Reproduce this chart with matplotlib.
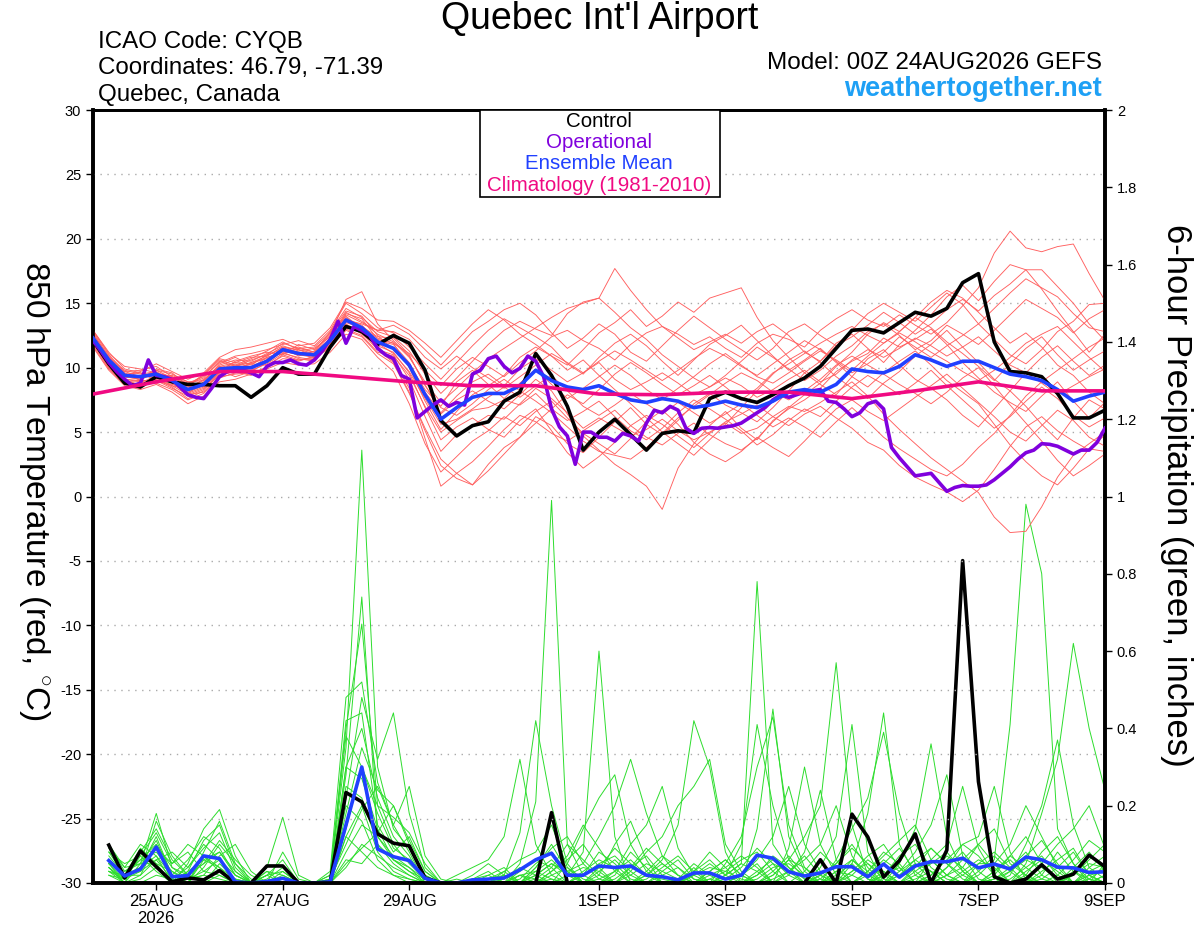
import matplotlib
matplotlib.use("Agg")
import matplotlib.pyplot as plt
from matplotlib.patches import Rectangle
import pandas as pd

plt.rcParams['font.family'] = ['Liberation Sans', 'DejaVu Sans']
plt.rcParams['axes.unicode_minus'] = False
plt.rcParams['mathtext.fontset'] = 'custom'
plt.rcParams['mathtext.rm'] = 'Liberation Sans'

# ---- data (6-hourly unless noted) ----
run_start = "2026-08-24 00:00"

control_temp = [12.1, 10.3, 8.8, 8.5, 9.3, 8.9, 8.7, 8.7, 8.6, 8.6, 7.7, 8.6,
                10.0, 9.5, 9.5, 11.6, 13.2, 12.8, 11.8, 12.5, 11.9, 9.8, 5.9, 4.7,
                5.5, 5.8, 7.4, 8.1, 11.1, 9.4, 7.0, 3.6, 5.0, 6.0, 4.8, 3.6,
                4.9, 5.1, 4.95, 7.6, 8.1, 7.6, 7.3, 7.9, 8.6, 9.2, 10.1, 11.5,
                12.9, 13.0, 12.7, 13.5, 14.3, 14.0, 14.6, 16.6, 17.3, 12.0, 9.7, 9.6,
                9.3, 8.0, 6.1, 6.1, 6.7]

mean_temp = [12.3, 10.6, 9.4, 9.3, 9.5, 9.0, 8.3, 8.7, 9.9, 10.0, 10.0, 10.5,
             11.4, 11.1, 11.0, 12.1, 13.7, 13.1, 12.0, 11.5, 10.2, 7.9, 6.0, 6.9,
             7.7, 8.0, 8.0, 8.6, 9.8, 9.0, 8.5, 8.3, 8.6, 8.0, 7.5, 7.3,
             7.6, 7.4, 6.9, 7.1, 7.4, 7.1, 6.9, 7.4, 8.1, 8.3, 8.1, 8.7,
             9.9, 9.7, 9.6, 10.1, 11.0, 10.6, 10.1, 10.5, 10.5, 10.0, 9.5, 9.3,
             9.0, 8.3, 7.4, 7.8, 8.1]

# operational run is 3-hourly
oper_temp = [12.1, 11.3, 10.4, 9.7, 9.1, 8.6, 8.8, 10.6, 9.4, 9.3,
             9.1, 8.5, 7.9, 7.7, 7.6, 8.4, 9.3, 9.7, 9.8, 9.8,
             9.6, 9.3, 10.1, 10.4, 10.4, 10.6, 10.3, 10.2, 10.6, 11.3,
             12.2, 13.6, 11.9, 13.2, 12.9, 12.5, 11.5, 11.0, 10.7, 9.4,
             9.1, 6.1, 6.6, 7.1, 7.5, 7.0, 7.3, 7.1, 9.5, 9.8,
             10.7, 10.9, 10.1, 9.6, 9.95, 10.9, 10.5, 9.3, 6.8, 5.4,
             4.7, 2.5, 5.0, 5.0, 4.6, 4.6, 4.3, 4.9, 4.7, 4.3,
             5.7, 6.7, 6.5, 7.0, 6.7, 5.3, 4.9, 5.3, 5.35, 5.3,
             5.4, 5.5, 5.7, 6.1, 6.5, 6.9, 7.5, 7.9, 7.7, 7.9,
             8.1, 8.2, 8.3, 7.4, 7.3, 6.8, 6.2, 6.5, 7.2, 7.4,
             6.8, 3.8, 3.0, 2.3, 1.6, 1.7, 1.8, 1.1, 0.4, 0.7,
             0.85, 0.8, 0.8, 0.9, 1.3, 1.8, 2.3, 2.9, 3.4, 3.6,
             4.1, 4.05, 3.9, 3.6, 3.3, 3.6, 3.6, 4.2, 5.3]

# climatology, daily at 00Z
clim_temp = [7.95, 8.9, 9.7, 9.7, 9.3, 8.9, 8.6, 8.6, 7.95, 7.9, 8.1, 8.1,
             7.6, 8.2, 8.9, 8.2, 8.2]

member_temp = [
    [12.6, 10.9, 9.6, 9.0, 9.8, 9.2, 8.0, 8.9, 10.3, 10.8, 10.2, 11.0, 11.9, 11.5, 11.2, 12.8,
     14.6, 13.9, 12.8, 12.4, 11.3, 9.5, 8.0, 9.2, 10.5, 11.8, 12.9, 13.6, 13.0, 12.5, 14.2, 15.1,
     15.4, 17.7, 16.0, 14.5, 13.2, 12.6, 11.8, 12.4, 11.5, 10.8, 11.9, 12.6, 12.2, 11.6, 12.9, 13.8,
     14.5, 13.7, 13.2, 14.1, 13.3, 12.6, 13.5, 14.8, 16.2, 18.9, 20.6, 19.3, 19.0, 19.4, 19.6, 17.3, 15.2],
    [12.0, 10.2, 9.0, 8.7, 9.1, 8.5, 7.6, 8.2, 9.5, 9.7, 9.4, 10.1, 11.0, 10.6, 10.7, 11.9,
     13.2, 12.7, 11.4, 11.0, 9.1, 6.2, 3.5, 4.8, 5.5, 6.3, 6.0, 7.2, 8.4, 7.6, 6.5, 5.3,
     6.1, 5.4, 4.7, 5.2, 6.0, 5.1, 4.4, 5.0, 5.7, 4.9, 5.3, 6.2, 7.0, 6.6, 7.3, 8.1,
     8.9, 7.8, 6.4, 5.2, 4.1, 3.0, 2.1, 1.2, 0.3, -1.6, -2.8, -2.7, -0.8, 1.5, 3.2, 4.1, 5.0],
    [12.9, 11.2, 9.9, 9.6, 9.0, 8.7, 8.4, 9.1, 10.1, 9.8, 10.4, 10.9, 11.6, 10.9, 11.3, 12.5,
     14.0, 13.0, 11.6, 10.5, 8.4, 4.5, 0.8, 1.8, 0.9, 2.5, 3.8, 4.6, 6.2, 5.5, 4.1, 3.4,
     4.6, 5.8, 6.9, 5.6, 4.8, 5.9, 7.2, 8.0, 7.1, 6.5, 5.8, 6.9, 8.2, 9.6, 8.7, 7.9,
     9.3, 10.7, 11.4, 10.2, 9.1, 8.4, 7.5, 6.3, 5.4, 6.8, 8.2, 7.0, 5.6, 4.4, 6.1, 7.5, 6.8],
    [11.8, 10.0, 8.8, 8.4, 9.3, 9.4, 8.9, 8.5, 9.7, 10.5, 10.9, 11.2, 11.0, 11.8, 11.4, 12.6,
     15.3, 15.9, 13.4, 12.1, 10.9, 8.7, 6.4, 7.5, 8.2, 7.4, 6.8, 7.9, 9.1, 8.2, 6.4, 4.7,
     3.6, 2.5, 1.7, 0.8, -1.0, 2.2, 4.1, 5.5, 6.6, 5.3, 4.4, 5.9, 6.8, 7.5, 8.4, 9.7,
     10.5, 11.1, 12.3, 11.6, 12.2, 13.0, 11.8, 10.4, 9.2, 8.1, 7.3, 6.6, 7.8, 8.9, 7.4, 6.1, 7.3],
    [12.4, 10.7, 9.3, 9.1, 9.9, 9.6, 8.6, 9.4, 10.6, 10.2, 10.7, 11.3, 12.0, 11.4, 10.9, 12.2,
     14.1, 13.5, 12.9, 13.3, 12.6, 11.4, 10.2, 11.5, 12.8, 13.6, 14.5, 15.0, 14.1, 12.7, 11.5, 12.3,
     13.4, 12.6, 11.2, 10.5, 11.7, 12.9, 14.0, 13.1, 12.2, 11.4, 10.6, 11.5, 12.8, 13.4, 12.5, 11.7,
     12.9, 14.2, 15.0, 14.3, 13.6, 14.7, 15.8, 14.9, 13.4, 12.2, 11.0, 10.3, 11.4, 12.8, 13.6, 14.9, 15.0],
    [12.2, 10.4, 9.1, 8.9, 8.8, 8.3, 7.5, 8.0, 9.2, 9.6, 10.0, 10.8, 11.2, 10.7, 10.5, 11.8,
     13.5, 13.1, 12.3, 11.9, 10.0, 7.4, 5.2, 6.6, 7.9, 8.6, 9.4, 10.8, 11.6, 10.9, 10.2, 11.4,
     12.7, 13.5, 14.5, 13.2, 14.0, 15.1, 14.3, 15.4, 15.8, 16.2, 13.9, 12.1, 10.8, 9.6, 10.5, 11.9,
     12.6, 11.5, 10.4, 11.8, 12.9, 14.1, 15.5, 16.4, 15.2, 16.7, 18.0, 17.6, 16.1, 14.4, 12.8, 11.2, 12.6],
    [12.7, 10.8, 9.5, 9.2, 9.4, 8.9, 8.1, 8.6, 9.8, 9.3, 9.7, 10.4, 11.3, 11.0, 10.8, 11.9,
     13.4, 12.6, 11.7, 11.2, 9.6, 6.9, 4.4, 5.4, 6.1, 5.2, 4.6, 5.9, 6.8, 5.1, 3.4, 2.2,
     3.1, 4.2, 5.5, 6.3, 5.6, 4.7, 3.8, 4.9, 5.8, 6.4, 7.1, 6.2, 5.5, 6.4, 7.0, 6.1,
     5.3, 4.2, 3.6, 2.4, 1.5, 0.9, 0.35, -0.4, 0.5, 2.1, 3.9, 5.4, 6.2, 5.1, 4.3, 3.6, 4.8],
    [12.1, 10.5, 9.2, 9.4, 9.6, 9.1, 8.2, 8.8, 10.0, 10.3, 10.1, 10.6, 11.5, 11.2, 11.1, 12.0,
     13.8, 13.3, 12.1, 11.8, 10.4, 8.1, 6.5, 7.8, 8.9, 9.5, 8.6, 9.9, 10.7, 9.8, 8.9, 9.6,
     10.4, 9.1, 8.3, 8.9, 9.6, 8.8, 7.9, 8.5, 9.2, 8.6, 7.7, 8.3, 9.1, 9.8, 8.9, 9.5,
     10.6, 11.4, 10.8, 11.5, 12.3, 11.7, 10.9, 11.6, 12.4, 11.3, 10.2, 9.6, 8.8, 7.9, 8.6, 9.3, 9.9],
    [11.9, 10.3, 9.7, 9.8, 10.1, 9.3, 8.8, 9.3, 10.4, 10.9, 11.1, 11.4, 11.8, 12.1, 11.7, 12.9,
     15.0, 14.2, 13.1, 12.7, 11.6, 10.3, 9.1, 10.4, 11.7, 12.9, 13.8, 13.1, 12.4, 11.6, 10.3, 9.5,
     10.8, 11.9, 12.6, 11.7, 10.5, 9.4, 10.6, 11.8, 12.5, 13.3, 12.1, 10.9, 9.8, 10.6, 11.5, 10.4,
     9.3, 8.5, 9.6, 10.5, 11.3, 10.2, 9.0, 8.1, 7.2, 5.6, 4.0, 2.7, 1.6, 0.9, 2.2, 3.7, 3.5],
    [12.5, 10.6, 9.0, 8.6, 9.2, 8.8, 7.9, 8.4, 9.4, 9.9, 10.3, 10.2, 10.9, 10.5, 10.9, 11.6,
     12.9, 12.4, 11.1, 10.3, 8.0, 5.3, 2.9, 1.8, 2.7, 3.9, 5.2, 6.3, 5.8, 4.9, 4.3, 5.1,
     5.9, 6.7, 5.5, 4.6, 4.0, 4.9, 5.7, 4.8, 4.1, 3.6, 4.5, 5.8, 6.9, 7.9, 8.8, 10.1,
     11.2, 12.6, 13.5, 12.8, 13.9, 15.1, 16.0, 15.4, 14.3, 13.1, 11.9, 12.7, 11.6, 10.2, 9.4, 8.1, 7.2],
    [12.3, 10.8, 9.8, 9.5, 9.7, 9.0, 8.5, 9.0, 10.2, 10.6, 10.5, 11.1, 11.7, 11.3, 11.5, 12.4,
     14.3, 13.6, 12.6, 12.0, 10.8, 8.9, 7.3, 8.4, 9.6, 10.7, 11.5, 12.3, 13.1, 13.9, 14.6, 15.0,
     15.4, 14.3, 13.1, 12.2, 11.0, 10.1, 9.2, 8.5, 9.4, 10.5, 11.6, 10.8, 9.9, 9.0, 9.8, 10.9,
     11.7, 12.8, 13.4, 12.5, 11.4, 12.1, 13.3, 12.6, 11.8, 12.9, 14.1, 15.3, 14.6, 13.9, 12.7, 13.8, 14.5],
    [11.6, 9.8, 8.6, 8.3, 8.7, 8.1, 7.2, 7.8, 8.9, 9.1, 9.5, 9.9, 10.4, 10.2, 10.3, 11.2,
     12.6, 12.2, 10.8, 9.7, 7.2, 4.1, 1.9, 3.1, 4.3, 5.1, 6.2, 5.5, 6.6, 7.4, 6.1, 4.9,
     4.1, 3.3, 4.5, 5.8, 6.7, 5.6, 4.2, 3.3, 2.7, 3.5, 4.6, 3.8, 3.1, 4.3, 5.6, 6.8,
     7.5, 6.6, 5.9, 6.8, 7.7, 8.6, 9.5, 8.4, 7.3, 6.2, 5.0, 4.3, 5.5, 6.7, 5.9, 4.6, 3.9],
    [12.8, 11.0, 9.7, 9.3, 9.5, 9.2, 8.7, 9.2, 10.5, 10.1, 10.6, 11.0, 11.4, 11.6, 11.2, 12.3,
     14.2, 13.8, 12.2, 11.9, 11.1, 9.8, 8.6, 9.9, 10.8, 10.1, 9.3, 10.4, 11.3, 12.4, 12.9, 12.1,
     11.5, 10.6, 11.8, 12.7, 13.2, 12.3, 11.4, 12.0, 12.6, 11.9, 12.8, 13.4, 12.5, 11.2, 10.5, 11.7,
     12.4, 13.3, 14.3, 13.5, 12.6, 13.4, 14.5, 15.3, 14.4, 15.6, 16.5, 17.6, 17.6, 16.3, 15.0, 13.4, 12.1],
    [12.0, 10.1, 9.1, 9.0, 9.0, 8.4, 7.8, 8.3, 9.6, 10.0, 9.8, 10.3, 11.1, 10.8, 10.6, 11.7,
     13.0, 12.5, 11.2, 10.9, 9.4, 7.0, 5.0, 5.9, 6.7, 6.9, 7.5, 7.1, 8.0, 6.8, 5.9, 6.6,
     7.4, 6.2, 5.1, 4.4, 5.3, 6.5, 7.5, 6.8, 6.0, 5.1, 4.0, 4.8, 5.9, 6.8, 6.2, 7.4,
     8.5, 9.4, 8.7, 7.9, 8.8, 9.8, 8.6, 7.5, 6.4, 5.3, 6.2, 7.4, 8.5, 7.6, 6.3, 5.4, 6.1],
    [12.4, 10.4, 9.4, 9.7, 10.3, 9.7, 9.1, 9.6, 10.8, 11.4, 11.6, 11.9, 12.2, 11.7, 11.9, 13.1,
     15.1, 14.6, 13.7, 13.6, 12.9, 11.9, 10.8, 12.1, 13.4, 14.5, 13.7, 12.6, 11.8, 10.9, 9.8, 10.6,
     9.4, 8.3, 7.2, 6.1, 5.0, 4.1, 3.2, 4.4, 5.6, 6.9, 8.2, 9.5, 10.6, 11.3, 10.4, 9.3,
     8.4, 7.6, 8.8, 9.7, 10.9, 11.8, 12.9, 11.6, 10.4, 9.1, 8.2, 9.6, 10.8, 11.7, 10.5, 9.4, 10.2],
    [11.7, 9.9, 8.7, 8.8, 9.4, 8.9, 8.0, 8.5, 9.6, 10.1, 10.4, 10.7, 11.3, 11.0, 11.0, 12.2,
     13.9, 13.0, 11.4, 10.4, 8.1, 5.1, 2.4, 1.4, 0.9, 2.0, 3.3, 4.6, 5.7, 6.8, 7.9, 7.2,
     8.3, 9.5, 10.4, 9.6, 8.7, 7.9, 8.6, 9.4, 8.5, 7.5, 8.4, 9.6, 10.3, 11.1, 11.9, 12.6,
     13.2, 12.5, 11.9, 12.8, 13.9, 13.1, 12.0, 11.1, 10.1, 9.0, 10.3, 11.5, 12.4, 11.0, 9.8, 10.6, 11.3],
    [12.6, 10.6, 9.3, 9.1, 9.8, 9.5, 8.9, 9.0, 10.1, 10.4, 10.8, 10.9, 11.6, 11.4, 11.1, 12.2,
     13.6, 13.2, 12.4, 12.3, 11.0, 8.6, 6.9, 6.3, 7.2, 8.3, 9.1, 8.2, 7.4, 6.5, 5.4, 4.3,
     3.5, 3.2, 2.9, 3.8, 4.9, 6.1, 7.0, 7.9, 8.8, 9.6, 9.0, 8.1, 7.5, 8.2, 9.1, 10.2,
     10.9, 10.2, 9.5, 8.7, 8.0, 7.2, 8.1, 9.2, 10.0, 8.6, 7.1, 5.7, 4.3, 2.8, 1.6, 2.4, 3.3],
    [12.2, 10.5, 9.5, 9.6, 9.3, 8.6, 8.3, 8.7, 9.9, 10.2, 9.9, 10.6, 11.5, 11.2, 11.0, 12.1,
     13.7, 13.4, 12.9, 12.8, 12.2, 10.8, 9.9, 10.9, 10.0, 9.2, 8.4, 9.3, 10.2, 11.1, 10.4, 9.6,
     10.5, 11.3, 10.6, 9.8, 9.0, 9.8, 10.7, 11.5, 10.9, 10.1, 9.4, 10.3, 11.2, 12.1, 11.4, 10.5,
     9.6, 10.3, 11.2, 12.4, 11.6, 10.8, 11.7, 12.5, 13.4, 14.6, 15.8, 16.9, 16.2, 15.5, 14.2, 13.1, 12.8],
    [12.1, 10.0, 8.9, 9.0, 9.0, 8.6, 7.9, 8.1, 9.3, 9.5, 9.6, 10.0, 10.7, 10.6, 10.8, 11.5,
     13.1, 12.9, 11.9, 11.1, 9.7, 7.6, 5.6, 6.0, 6.8, 7.7, 8.5, 7.7, 8.6, 9.4, 8.2, 7.0,
     6.3, 7.1, 8.0, 7.2, 6.4, 7.3, 6.5, 5.7, 6.4, 7.2, 6.3, 5.4, 6.1, 5.4, 4.6, 5.8,
     6.9, 5.8, 4.6, 3.7, 2.9, 2.1, 1.6, 2.5, 3.8, 4.9, 6.3, 7.8, 8.9, 9.8, 10.7, 11.6, 12.3],
    [12.9, 11.1, 10.1, 9.9, 9.6, 9.3, 8.6, 9.5, 10.7, 10.4, 10.3, 10.8, 11.1, 11.5, 11.6, 12.7,
     14.4, 14.0, 12.5, 11.4, 10.3, 8.3, 7.0, 8.9, 9.8, 8.7, 7.6, 8.8, 9.9, 8.7, 7.6, 8.4,
     9.3, 10.2, 9.4, 8.3, 7.5, 8.4, 9.3, 10.3, 11.1, 10.2, 9.3, 8.8, 9.6, 10.5, 11.3, 10.6,
     9.8, 10.9, 11.9, 12.7, 12.0, 11.2, 10.5, 9.7, 9.0, 9.8, 10.8, 11.9, 12.6, 13.2, 12.0, 10.8, 9.7],
]

# precipitation totals for the 6 h ending 06Z 24 Aug ... 00Z 9 Sep
control_precip = [0.098, 0.013, 0.083, 0.042, 0.003, 0.013, 0.008, 0.032, 0.0, 0.0, 0.044, 0.044,
                  0.0, 0.0, 0.002, 0.234, 0.21, 0.127, 0.103, 0.096, 0.013, 0.0, 0.0, 0.0,
                  0.0, 0.0, 0.0, 0.0, 0.182, 0.0, 0.0, 0.0, 0.0, 0.0, 0.0, 0.0,
                  0.0, 0.0, 0.0, 0.0, 0.0, 0.0, 0.0, 0.0, 0.0, 0.06, 0.0, 0.178,
                  0.119, 0.015, 0.058, 0.127, 0.0, 0.085, 0.834, 0.262, 0.016, 0.0, 0.01, 0.047,
                  0.01, 0.023, 0.072, 0.042]

mean_precip = [0.058, 0.018, 0.036, 0.093, 0.016, 0.019, 0.07, 0.063, 0.003, 0.0, 0.004, 0.012,
               0.0, 0.0, 0.003, 0.15, 0.30, 0.088, 0.068, 0.058, 0.012, 0.0, 0.0, 0.008,
               0.01, 0.013, 0.034, 0.06, 0.077, 0.02, 0.02, 0.044, 0.04, 0.044, 0.02, 0.016,
               0.008, 0.026, 0.026, 0.01, 0.02, 0.072, 0.064, 0.029, 0.018, 0.026, 0.042, 0.042,
               0.016, 0.049, 0.015, 0.044, 0.055, 0.055, 0.064, 0.039, 0.049, 0.036, 0.067, 0.06,
               0.041, 0.039, 0.027, 0.029]

member_precip = [
    [0.05, 0.01, 0.04, 0.12, 0.02, 0.0, 0.06, 0.08, 0.02, 0.0, 0.0, 0.03, 0.0, 0.0, 0.01, 0.35,
     1.12, 0.30, 0.14, 0.09, 0.02, 0.0, 0.0, 0.0, 0.0, 0.0, 0.03, 0.06, 0.04, 0.0, 0.02, 0.08,
     0.05, 0.01, 0.0, 0.0, 0.0, 0.02, 0.05, 0.02, 0.05, 0.78, 0.1, 0.04, 0.0, 0.0, 0.02, 0.05,
     0.01, 0.0, 0.0, 0.03, 0.06, 0.02, 0.0, 0.0, 0.01, 0.04, 0.08, 0.02, 0.0, 0.0, 0.03, 0.05],
    [0.08, 0.02, 0.09, 0.05, 0.0, 0.03, 0.11, 0.15, 0.04, 0.0, 0.02, 0.0, 0.0, 0.0, 0.0, 0.28,
     0.74, 0.12, 0.06, 0.03, 0.0, 0.0, 0.0, 0.01, 0.02, 0.0, 0.05, 0.21, 0.99, 0.1, 0.02, 0.0,
     0.0, 0.04, 0.07, 0.02, 0.0, 0.0, 0.01, 0.0, 0.0, 0.03, 0.06, 0.02, 0.0, 0.01, 0.05, 0.1,
     0.04, 0.0, 0.02, 0.06, 0.03, 0.0, 0.0, 0.05, 0.05, 0.1, 0.2, 0.12, 0.04, 0.0, 0.02, 0.0],
    [0.03, 0.0, 0.05, 0.18, 0.04, 0.01, 0.03, 0.06, 0.0, 0.0, 0.03, 0.0, 0.0, 0.0, 0.02, 0.4,
     0.67, 0.2, 0.1, 0.05, 0.01, 0.0, 0.0, 0.0, 0.0, 0.03, 0.0, 0.02, 0.05, 0.02, 0.08, 0.6,
     0.12, 0.0, 0.0, 0.03, 0.06, 0.01, 0.0, 0.0, 0.02, 0.05, 0.0, 0.0, 0.03, 0.08, 0.04, 0.0,
     0.0, 0.02, 0.07, 0.1, 0.04, 0.01, 0.0, 0.02, 0.06, 0.41, 0.98, 0.8, 0.14, 0.05, 0.0, 0.02],
    [0.06, 0.02, 0.02, 0.1, 0.0, 0.05, 0.14, 0.19, 0.07, 0.0, 0.0, 0.02, 0.0, 0.0, 0.03, 0.48,
     0.52, 0.26, 0.15, 0.08, 0.0, 0.0, 0.01, 0.0, 0.0, 0.0, 0.0, 0.04, 0.1, 0.03, 0.0, 0.02,
     0.1, 0.16, 0.06, 0.0, 0.0, 0.03, 0.08, 0.04, 0.0, 0.0, 0.02, 0.06, 0.12, 0.2, 0.57, 0.15,
     0.02, 0.0, 0.0, 0.04, 0.09, 0.05, 0.01, 0.0, 0.0, 0.03, 0.07, 0.11, 0.05, 0.0, 0.01, 0.04],
    [0.1, 0.03, 0.06, 0.08, 0.03, 0.0, 0.04, 0.1, 0.05, 0.01, 0.0, 0.0, 0.0, 0.0, 0.0, 0.22,
     0.48, 0.32, 0.44, 0.18, 0.04, 0.0, 0.0, 0.0, 0.01, 0.0, 0.02, 0.0, 0.03, 0.07, 0.15, 0.09,
     0.03, 0.0, 0.02, 0.05, 0.02, 0.0, 0.0, 0.01, 0.04, 0.09, 0.05, 0.0, 0.0, 0.02, 0.0, 0.0,
     0.03, 0.08, 0.05, 0.0, 0.0, 0.04, 0.1, 0.07, 0.02, 0.0, 0.05, 0.18, 0.32, 0.62, 0.4, 0.24],
    [0.04, 0.0, 0.08, 0.14, 0.06, 0.02, 0.0, 0.05, 0.01, 0.0, 0.04, 0.17, 0.02, 0.0, 0.01, 0.42,
     0.44, 0.15, 0.08, 0.12, 0.03, 0.0, 0.0, 0.0, 0.0, 0.02, 0.13, 0.42, 0.2, 0.05, 0.0, 0.0,
     0.02, 0.08, 0.04, 0.0, 0.0, 0.0, 0.03, 0.06, 0.02, 0.0, 0.0, 0.03, 0.07, 0.02, 0.0, 0.05,
     0.18, 0.44, 0.1, 0.02, 0.0, 0.0, 0.03, 0.06, 0.04, 0.0, 0.0, 0.02, 0.08, 0.03, 0.0, 0.0],
    [0.02, 0.01, 0.03, 0.06, 0.08, 0.04, 0.09, 0.13, 0.03, 0.0, 0.0, 0.01, 0.0, 0.0, 0.0, 0.3,
     0.4, 0.22, 0.12, 0.07, 0.0, 0.0, 0.02, 0.04, 0.06, 0.12, 0.32, 0.1, 0.02, 0.0, 0.0, 0.03,
     0.06, 0.02, 0.0, 0.0, 0.01, 0.05, 0.02, 0.0, 0.0, 0.14, 0.45, 0.12, 0.03, 0.0, 0.0, 0.02,
     0.06, 0.03, 0.0, 0.0, 0.02, 0.07, 0.04, 0.0, 0.0, 0.02, 0.1, 0.2, 0.37, 0.15, 0.04, 0.01],
    [0.07, 0.02, 0.04, 0.09, 0.01, 0.0, 0.07, 0.04, 0.0, 0.0, 0.02, 0.06, 0.0, 0.0, 0.02, 0.38,
     0.3, 0.18, 0.09, 0.06, 0.01, 0.0, 0.0, 0.0, 0.0, 0.0, 0.01, 0.05, 0.08, 0.03, 0.05, 0.12,
     0.2, 0.32, 0.18, 0.07, 0.02, 0.0, 0.0, 0.02, 0.05, 0.03, 0.0, 0.0, 0.0, 0.04, 0.12, 0.41,
     0.08, 0.0, 0.02, 0.05, 0.03, 0.0, 0.0, 0.0, 0.03, 0.06, 0.02, 0.0, 0.0, 0.04, 0.08, 0.03],
    [0.05, 0.03, 0.05, 0.11, 0.02, 0.06, 0.12, 0.09, 0.02, 0.0, 0.0, 0.0, 0.0, 0.0, 0.0, 0.18,
     0.35, 0.24, 0.2, 0.1, 0.02, 0.0, 0.0, 0.01, 0.03, 0.0, 0.0, 0.03, 0.06, 0.02, 0.0, 0.04,
     0.09, 0.05, 0.02, 0.06, 0.15, 0.42, 0.3, 0.08, 0.0, 0.0, 0.03, 0.07, 0.02, 0.0, 0.01, 0.06,
     0.03, 0.0, 0.05, 0.14, 0.36, 0.12, 0.03, 0.0, 0.0, 0.01, 0.04, 0.07, 0.02, 0.0, 0.0, 0.05],
    [0.09, 0.04, 0.1, 0.07, 0.0, 0.02, 0.05, 0.11, 0.06, 0.02, 0.0, 0.0, 0.0, 0.0, 0.0, 0.3,
     0.27, 0.14, 0.06, 0.04, 0.0, 0.0, 0.0, 0.0, 0.0, 0.01, 0.04, 0.02, 0.0, 0.05, 0.14, 0.22,
     0.28, 0.1, 0.03, 0.0, 0.0, 0.04, 0.0, 0.02, 0.1, 0.41, 0.2, 0.06, 0.01, 0.0, 0.03, 0.02,
     0.0, 0.05, 0.09, 0.03, 0.0, 0.02, 0.06, 0.1, 0.05, 0.0, 0.0, 0.03, 0.06, 0.09, 0.02, 0.0],
    [0.03, 0.01, 0.07, 0.13, 0.05, 0.08, 0.03, 0.02, 0.0, 0.0, 0.01, 0.04, 0.0, 0.0, 0.0, 0.14,
     0.3, 0.2, 0.17, 0.13, 0.05, 0.0, 0.0, 0.0, 0.0, 0.0, 0.0, 0.01, 0.04, 0.1, 0.06, 0.02,
     0.0, 0.03, 0.08, 0.12, 0.2, 0.25, 0.32, 0.1, 0.03, 0.0, 0.0, 0.09, 0.3, 0.1, 0.02, 0.0,
     0.0, 0.03, 0.0, 0.02, 0.05, 0.08, 0.03, 0.0, 0.02, 0.07, 0.12, 0.05, 0.0, 0.02, 0.06, 0.1],
    [0.04, 0.0, 0.02, 0.06, 0.01, 0.0, 0.08, 0.16, 0.05, 0.0, 0.03, 0.02, 0.0, 0.0, 0.01, 0.1,
     0.19, 0.25, 0.15, 0.25, 0.07, 0.01, 0.0, 0.0, 0.02, 0.04, 0.0, 0.0, 0.01, 0.0, 0.03, 0.06,
     0.04, 0.0, 0.0, 0.02, 0.04, 0.01, 0.0, 0.05, 0.12, 0.3, 0.43, 0.15, 0.04, 0.0, 0.0, 0.03,
     0.05, 0.01, 0.0, 0.0, 0.02, 0.06, 0.1, 0.12, 0.25, 0.08, 0.01, 0.0, 0.0, 0.03, 0.01, 0.0],
    [0.06, 0.02, 0.03, 0.16, 0.07, 0.02, 0.01, 0.03, 0.0, 0.0, 0.0, 0.0, 0.0, 0.0, 0.0, 0.25,
     0.22, 0.1, 0.05, 0.02, 0.0, 0.0, 0.0, 0.0, 0.01, 0.03, 0.06, 0.08, 0.15, 0.04, 0.0, 0.0,
     0.03, 0.1, 0.15, 0.25, 0.09, 0.02, 0.0, 0.0, 0.0, 0.02, 0.05, 0.03, 0.0, 0.0, 0.06, 0.14,
     0.22, 0.39, 0.18, 0.05, 0.01, 0.0, 0.0, 0.03, 0.07, 0.03, 0.0, 0.0, 0.02, 0.06, 0.11, 0.08],
    [0.02, 0.0, 0.01, 0.04, 0.0, 0.03, 0.06, 0.04, 0.01, 0.0, 0.0, 0.08, 0.01, 0.0, 0.0, 0.12,
     0.2, 0.08, 0.03, 0.01, 0.0, 0.0, 0.0, 0.02, 0.05, 0.02, 0.0, 0.0, 0.0, 0.02, 0.04, 0.03,
     0.0, 0.0, 0.03, 0.07, 0.04, 0.0, 0.0, 0.0, 0.02, 0.06, 0.12, 0.25, 0.1, 0.03, 0.0, 0.0,
     0.02, 0.06, 0.03, 0.08, 0.15, 0.28, 0.07, 0.01, 0.0, 0.0, 0.03, 0.06, 0.03, 0.0, 0.0, 0.02],
    [0.08, 0.05, 0.07, 0.03, 0.0, 0.01, 0.02, 0.07, 0.1, 0.03, 0.0, 0.0, 0.0, 0.0, 0.0, 0.2,
     0.16, 0.06, 0.02, 0.0, 0.0, 0.0, 0.0, 0.0, 0.0, 0.0, 0.02, 0.03, 0.01, 0.0, 0.0, 0.01,
     0.03, 0.06, 0.02, 0.0, 0.0, 0.0, 0.02, 0.04, 0.07, 0.04, 0.0, 0.02, 0.08, 0.24, 0.06, 0.0,
     0.0, 0.02, 0.04, 0.0, 0.06, 0.1, 0.25, 0.09, 0.02, 0.0, 0.0, 0.01, 0.04, 0.08, 0.02, 0.0],
    [0.03, 0.02, 0.04, 0.07, 0.02, 0.0, 0.0, 0.02, 0.0, 0.0, 0.02, 0.03, 0.0, 0.0, 0.0, 0.08,
     0.15, 0.12, 0.07, 0.04, 0.01, 0.0, 0.0, 0.0, 0.0, 0.0, 0.0, 0.0, 0.02, 0.04, 0.01, 0.0,
     0.0, 0.02, 0.05, 0.03, 0.01, 0.0, 0.03, 0.06, 0.02, 0.0, 0.01, 0.03, 0.06, 0.1, 0.2, 0.07,
     0.01, 0.0, 0.0, 0.01, 0.03, 0.0, 0.02, 0.05, 0.08, 0.04, 0.0, 0.05, 0.1, 0.14, 0.2, 0.09],
    [0.05, 0.0, 0.0, 0.02, 0.01, 0.04, 0.1, 0.06, 0.02, 0.0, 0.0, 0.0, 0.0, 0.0, 0.0, 0.05,
     0.09, 0.13, 0.2, 0.11, 0.03, 0.0, 0.0, 0.0, 0.0, 0.0, 0.0, 0.04, 0.09, 0.12, 0.05, 0.01,
     0.0, 0.0, 0.01, 0.04, 0.07, 0.03, 0.0, 0.0, 0.0, 0.01, 0.04, 0.05, 0.02, 0.0, 0.0, 0.03,
     0.07, 0.1, 0.04, 0.0, 0.0, 0.02, 0.04, 0.1, 0.14, 0.05, 0.02, 0.0, 0.0, 0.0, 0.04, 0.07],
    [0.1, 0.04, 0.05, 0.05, 0.03, 0.01, 0.02, 0.01, 0.0, 0.0, 0.0, 0.01, 0.0, 0.0, 0.0, 0.12,
     0.08, 0.04, 0.02, 0.01, 0.0, 0.0, 0.0, 0.0, 0.0, 0.0, 0.02, 0.01, 0.0, 0.0, 0.02, 0.05,
     0.07, 0.03, 0.0, 0.0, 0.0, 0.02, 0.04, 0.03, 0.01, 0.0, 0.02, 0.06, 0.04, 0.01, 0.0, 0.0,
     0.03, 0.07, 0.11, 0.15, 0.06, 0.02, 0.0, 0.0, 0.01, 0.03, 0.06, 0.04, 0.01, 0.0, 0.02, 0.03],
    [0.04, 0.01, 0.04, 0.09, 0.05, 0.1, 0.07, 0.03, 0.01, 0.0, 0.0, 0.0, 0.0, 0.0, 0.0, 0.04,
     0.1, 0.07, 0.04, 0.02, 0.0, 0.0, 0.0, 0.0, 0.0, 0.0, 0.0, 0.02, 0.05, 0.03, 0.0, 0.0,
     0.01, 0.04, 0.09, 0.05, 0.02, 0.0, 0.01, 0.03, 0.06, 0.08, 0.03, 0.0, 0.0, 0.02, 0.05, 0.09,
     0.05, 0.02, 0.0, 0.0, 0.01, 0.04, 0.08, 0.03, 0.0, 0.0, 0.02, 0.08, 0.12, 0.05, 0.01, 0.0],
    [0.06, 0.02, 0.06, 0.1, 0.04, 0.02, 0.05, 0.08, 0.03, 0.0, 0.0, 0.0, 0.0, 0.0, 0.0, 0.06,
     0.05, 0.1, 0.06, 0.03, 0.01, 0.0, 0.0, 0.0, 0.01, 0.02, 0.0, 0.0, 0.03, 0.06, 0.1, 0.04,
     0.0, 0.0, 0.02, 0.01, 0.0, 0.03, 0.06, 0.02, 0.0, 0.02, 0.07, 0.04, 0.01, 0.0, 0.03, 0.06,
     0.02, 0.0, 0.03, 0.06, 0.09, 0.05, 0.02, 0.0, 0.03, 0.07, 0.04, 0.01, 0.0, 0.02, 0.05, 0.04],
]

legend_labels = ["Control", "Operational", "Ensemble Mean", "Climatology (1981-2010)"]
legend_colors = ["black", "#8000dd", "#2040ff", "#f00a82"]

tick_dates = ["2026-08-25", "2026-08-27", "2026-08-29", "2026-09-01",
              "2026-09-03", "2026-09-05", "2026-09-07", "2026-09-09"]
tick_labels = ["25AUG\n2026", "27AUG", "29AUG", "1SEP", "3SEP", "5SEP", "7SEP", "9SEP"]

# ---- time axes ----
t6 = pd.date_range(run_start, periods=len(control_temp), freq="6h")
t3 = pd.date_range(run_start, periods=len(oper_temp), freq="3h")
tday = pd.date_range(run_start, periods=len(clim_temp), freq="D")
tp = pd.date_range("2026-08-24 06:00", periods=len(control_precip), freq="6h")

fig = plt.figure(figsize=(12, 9.27), dpi=100)
ax = fig.add_axes([0.0775, 0.0475, 0.8433, 0.8338])
ax2 = ax.twinx()

# precipitation (right axis)
for m in member_precip:
    ax2.plot(tp, m, color='#2ddd2d', lw=0.7, zorder=1)
ax2.plot(tp, control_precip, color='black', lw=2.6, zorder=3)
ax2.plot(tp, mean_precip, color='#2040ff', lw=2.6, zorder=4)

# temperature (left axis)
for m in member_temp:
    ax.plot(t6, m, color='#ff5f5f', lw=0.65, zorder=1)
ax.plot(t6, control_temp, color=legend_colors[0], lw=2.6, zorder=3)
ax.plot(t3, oper_temp, color=legend_colors[1], lw=2.6, zorder=3)
ax.plot(t6, mean_temp, color=legend_colors[2], lw=2.6, zorder=4)
ax.plot(tday, clim_temp, color=legend_colors[3], lw=2.6, zorder=5)

ax.set_zorder(ax2.get_zorder() + 1)
ax.patch.set_visible(False)

ax.set_xlim(pd.Timestamp("2026-08-24 00:00"), pd.Timestamp("2026-09-09 00:00"))
ax.set_ylim(-30, 30)
ax2.set_ylim(0, 2)
ax.set_yticks(range(-30, 31, 5))
ax2.set_yticks([i / 10 for i in range(0, 21, 2)])
ax2.set_yticklabels(["0", "0.2", "0.4", "0.6", "0.8", "1", "1.2", "1.4", "1.6", "1.8", "2"])
ax.set_xticks(pd.to_datetime(tick_dates))
ax.set_xticklabels(tick_labels)

for y in range(-25, 30, 5):
    ax.axhline(y, color='#aaaaaa', lw=1.0, ls=(0, (1, 4)), zorder=0)

for a in (ax, ax2):
    a.tick_params(direction='out', length=5, width=1, labelsize=10.5)
    for side in ('left', 'right', 'bottom'):
        a.spines[side].set_linewidth(2.6)
    a.spines['top'].set_linewidth(2)
ax.tick_params(axis='x', labelsize=12, pad=3)

# legend box: centred coloured labels in a plain frame hanging from the top edge
ax.add_patch(Rectangle((0.3824, 0.8875), 0.2372, 0.1125, transform=ax.transAxes,
                       facecolor='white', edgecolor='black', lw=1.2, zorder=10, clip_on=False))
for k, (lab, col) in enumerate(zip(legend_labels, legend_colors)):
    ax.text(0.5, 0.9858 - k * 0.0276, lab, transform=ax.transAxes, ha='center', va='center',
            color=col, fontsize=14.8, zorder=11)

fig.text(0.5, 0.979, "Quebec Int'l Airport", ha='center', va='center', fontsize=27)
fig.text(0.0817, 0.955, "ICAO Code: CYQB", ha='left', va='center', fontsize=17.4)
fig.text(0.0817, 0.927, "Coordinates: 46.79, -71.39", ha='left', va='center', fontsize=17.4)
fig.text(0.0817, 0.898, "Quebec, Canada", ha='left', va='center', fontsize=17.4)
fig.text(0.918, 0.932, "Model: 00Z 24AUG2026 GEFS", ha='right', va='center', fontsize=17.5)
fig.text(0.918, 0.904, "weathertogether.net", ha='right', va='center', fontsize=19.5,
         fontweight='bold', color='#1ea0f5')
fig.text(0.029, 0.47, r"850 hPa Temperature (red, $^{\circ}$C)", rotation=270,
         ha='center', va='center', fontsize=24)
fig.text(0.980, 0.466, "6-hour Precipitation (green, inches)", rotation=270,
         ha='center', va='center', fontsize=25)

fig.savefig("out.png", dpi=100)
